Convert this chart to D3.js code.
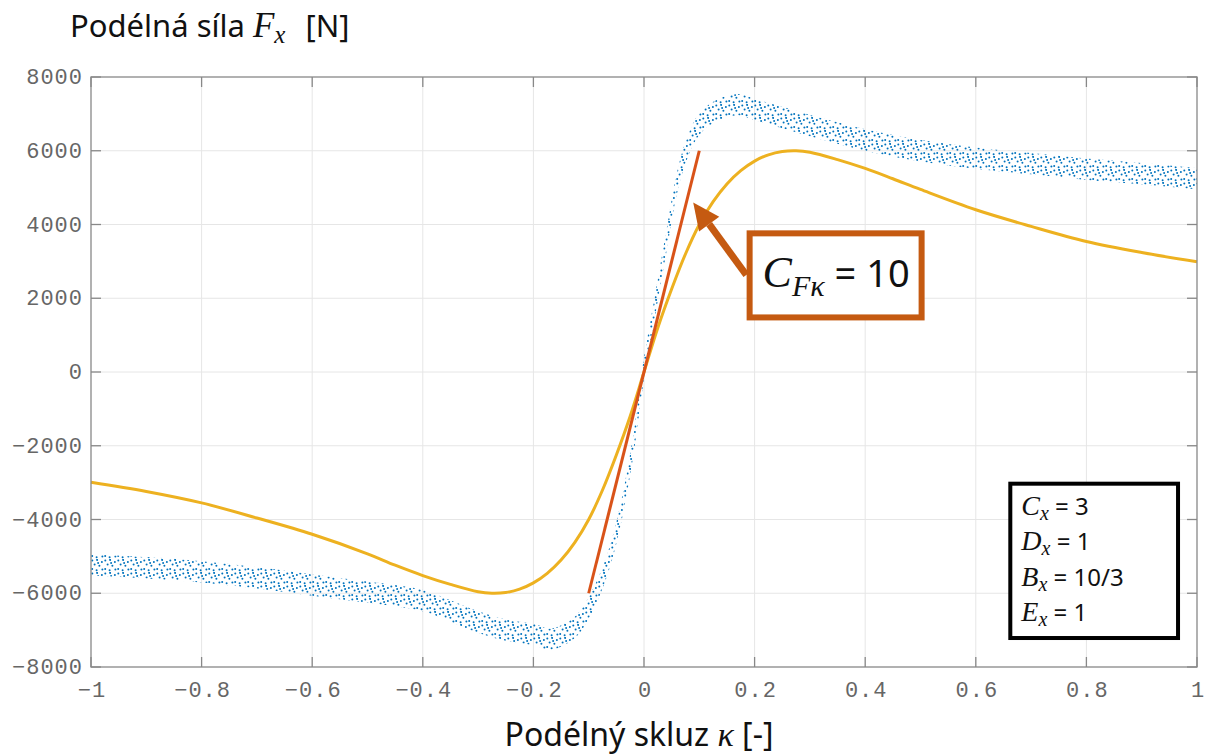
<!DOCTYPE html>
<html>
<head>
<meta charset="utf-8">
<script src="https://cdn.jsdelivr.net/npm/d3@7"></script>
<style>
  body { margin: 0; background: #fff; }
  .tick-label { font-family: "Liberation Mono", monospace; font-size: 22px; fill: #666; letter-spacing: 1px; }
  .sans { font-family: "Noto Sans", sans-serif; }
  .math { font-family: "Liberation Serif", serif; font-style: italic; }
</style>
</head>
<body>
<div id="chart"></div>
<script>
// axis ticks
const xTicks = [-1, -0.8, -0.6, -0.4, -0.2, 0, 0.2, 0.4, 0.6, 0.8, 1];
const yTicks = [-8000, -6000, -4000, -2000, 0, 2000, 4000, 6000, 8000];

const measX = [-1, -0.9, -0.8, -0.7, -0.6, -0.5, -0.4, -0.35, -0.3, -0.25, -0.2, -0.17, -0.14, -0.12, -0.1, -0.08, -0.06, -0.04, -0.02, 0,
               0.02, 0.04, 0.06, 0.08, 0.1, 0.13, 0.17, 0.2, 0.25, 0.3, 0.35, 0.4, 0.5, 0.6, 0.7, 0.8, 0.9, 1];
const measY = [-5230, -5310, -5420, -5580, -5780, -5970, -6200, -6480, -6780, -7000, -7120, -7250, -7080, -6850, -6400, -5770, -4920, -3700, -2050, 100,
               1800, 3500, 5150, 6150, 6720, 7080, 7250, 7120, 6900, 6680, 6480, 6290, 6000, 5800, 5650, 5500, 5380, 5240];
const measSpread = 290;

// magic formula curve (Cx = 3, Dx = 1, Bx = 10/3, Ex = 1)
const modelX = [-1, -0.9, -0.8, -0.7, -0.6, -0.5, -0.45, -0.4, -0.35, -0.3, -0.275, -0.25, -0.225, -0.2, -0.175, -0.15, -0.125, -0.1, -0.075, -0.05, -0.025, 0,
                0.025, 0.05, 0.075, 0.1, 0.125, 0.15, 0.175, 0.2, 0.225, 0.25, 0.275, 0.3, 0.35, 0.4, 0.45, 0.5, 0.6, 0.7, 0.8, 0.9, 1];
const modelY = [-2990, -3240, -3550, -3960, -4400, -4930, -5240, -5520, -5760, -5960, -6000, -5980, -5890, -5720, -5460, -5100, -4620, -4000, -3200, -2250, -1200, 0,
                1200, 2250, 3200, 4000, 4620, 5100, 5460, 5720, 5890, 5980, 6000, 5960, 5760, 5520, 5240, 4950, 4400, 3950, 3540, 3240, 2990];

// tangent at zero slip
const tangentX = [-0.1, 0.1];
const tangentY = [-6000, 6000];

const params = [["C", "3"], ["D", "1"], ["B", "10/3"], ["E", "1"]];

const width = 1205, height = 755;
const margin = { top: 77, right: 8, bottom: 88, left: 91 };

const svg = d3.select("#chart").append("svg")
    .attr("width", width)
    .attr("height", height);

const x = d3.scaleLinear().domain([-1, 1]).range([margin.left, width - margin.right]);
const y = d3.scaleLinear().domain([-8000, 8000]).range([height - margin.bottom, margin.top]);

const axisColor = "#888";
const fmt = v => (v < 0 ? "\u2212" : "") + Math.abs(v);

// dotted fill for the measured cloud
const defs = svg.append("defs");
const pat = defs.append("pattern")
    .attr("id", "dots")
    .attr("patternUnits", "userSpaceOnUse")
    .attr("width", 13).attr("height", 13);
[[1.3, 1.6], [6.1, 0.9], [10.9, 3.1], [3.6, 5.4], [8.4, 6.8], [1.2, 9.9], [5.6, 11.2], [11.4, 10.4], [7.1, 3.9]].forEach(p => {
    pat.append("circle").attr("cx", p[0]).attr("cy", p[1]).attr("r", 1.0).attr("fill", "#0072BD");
});

// grid
svg.append("g").selectAll("line").data(xTicks.slice(1, -1)).join("line")
    .attr("x1", d => x(d)).attr("x2", d => x(d))
    .attr("y1", y(8000)).attr("y2", y(-8000))
    .attr("stroke", "#e6e6e6").attr("stroke-width", 1);
svg.append("g").selectAll("line").data(yTicks.slice(1, -1)).join("line")
    .attr("y1", d => y(d)).attr("y2", d => y(d))
    .attr("x1", x(-1)).attr("x2", x(1))
    .attr("stroke", "#e6e6e6").attr("stroke-width", 1);

// measured cloud
const meas = measX.map((v, i) => ({ x: v, y: measY[i] }));
svg.append("path")
    .datum(meas)
    .attr("d", d3.area()
        .x(d => x(d.x))
        .y0(d => y(d.y - measSpread))
        .y1(d => y(d.y + measSpread))
        .curve(d3.curveCatmullRom))
    .attr("fill", "url(#dots)");

// model curve
const model = modelX.map((v, i) => ({ x: v, y: modelY[i] }));
svg.append("path")
    .datum(model)
    .attr("d", d3.line().x(d => x(d.x)).y(d => y(d.y)).curve(d3.curveCatmullRom))
    .attr("fill", "none")
    .attr("stroke", "#EDB120")
    .attr("stroke-width", 3);

// tangent
svg.append("line")
    .attr("x1", x(tangentX[0])).attr("y1", y(tangentY[0]))
    .attr("x2", x(tangentX[1])).attr("y2", y(tangentY[1]))
    .attr("stroke", "#D95319")
    .attr("stroke-width", 3);

// axes box
svg.append("rect")
    .attr("x", x(-1)).attr("y", y(8000))
    .attr("width", x(1) - x(-1)).attr("height", y(-8000) - y(8000))
    .attr("fill", "none").attr("stroke", axisColor).attr("stroke-width", 1.3);

// inward ticks on all four sides
const tickLen = 10;
const tk = svg.append("g").attr("stroke", axisColor).attr("stroke-width", 1.3);
xTicks.forEach(d => {
    tk.append("line").attr("x1", x(d)).attr("x2", x(d)).attr("y1", y(-8000)).attr("y2", y(-8000) - tickLen);
    tk.append("line").attr("x1", x(d)).attr("x2", x(d)).attr("y1", y(8000)).attr("y2", y(8000) + tickLen);
});
yTicks.forEach(d => {
    tk.append("line").attr("y1", y(d)).attr("y2", y(d)).attr("x1", x(-1)).attr("x2", x(-1) + tickLen);
    tk.append("line").attr("y1", y(d)).attr("y2", y(d)).attr("x1", x(1)).attr("x2", x(1) - tickLen);
});

// tick labels
svg.append("g").selectAll("text").data(xTicks).join("text")
    .attr("class", "tick-label")
    .attr("x", d => x(d) + 1)
    .attr("y", y(-8000) + 30)
    .attr("text-anchor", "middle")
    .text(fmt);
svg.append("g").selectAll("text").data(yTicks).join("text")
    .attr("class", "tick-label")
    .attr("x", x(-1) - 8)
    .attr("y", d => y(d) + 7)
    .attr("text-anchor", "end")
    .text(fmt);

// y title
const yt = svg.append("text").attr("x", 70).attr("y", 37).attr("font-size", 31).attr("fill", "#111");
yt.append("tspan").attr("class", "sans").text("Podélná síla ");
yt.append("tspan").attr("class", "math").attr("font-size", 35).text("F");
yt.append("tspan").attr("class", "math").attr("font-size", 25).attr("dy", 6).text("x");
yt.append("tspan").attr("class", "sans").attr("dy", -6).attr("dx", 20).text("[N]");

// x title
const xt = svg.append("text").attr("x", 639).attr("y", 746).attr("text-anchor", "middle").attr("font-size", 32).attr("fill", "#111");
xt.append("tspan").attr("class", "sans").text("Podélný skluz ");
xt.append("tspan").attr("class", "math").attr("font-size", 34).text("κ");
xt.append("tspan").attr("class", "sans").text(" [-]");

// annotation arrow
const orange = "#C55A11";
const tip = [x(0.089), y(4600)], tail = [x(0.185), y(2630)];
const dx = tip[0] - tail[0], dy = tip[1] - tail[1], len = Math.hypot(dx, dy);
const ux = dx / len, uy = dy / len, nx = -uy, ny = ux;
const headLen = 27, headW = 12.5;
const base = [tip[0] - ux * headLen, tip[1] - uy * headLen];
svg.append("line")
    .attr("x1", tail[0]).attr("y1", tail[1]).attr("x2", base[0]).attr("y2", base[1])
    .attr("stroke", orange).attr("stroke-width", 7);
svg.append("path")
    .attr("d", `M${tip[0]},${tip[1]}L${base[0] + nx * headW},${base[1] + ny * headW}L${base[0] - nx * headW},${base[1] - ny * headW}Z`)
    .attr("fill", orange);

// annotation box
const bx0 = x(0.191), bx1 = x(0.502), by0 = y(3760), by1 = y(1480);
svg.append("rect")
    .attr("x", bx0).attr("y", by0).attr("width", bx1 - bx0).attr("height", by1 - by0)
    .attr("fill", "#fff").attr("stroke", orange).attr("stroke-width", 6);
const at = svg.append("text").attr("x", bx0 + 13).attr("y", by0 + 54).attr("fill", "#111");
at.append("tspan").attr("class", "math").attr("font-size", 44).text("C");
at.append("tspan").attr("class", "math").attr("font-size", 30).attr("dy", 9).text("Fκ");
at.append("tspan").attr("class", "sans").attr("font-size", 38).attr("dy", -9).text(" = 10");

// parameter box
const px0 = x(0.6624), px1 = x(0.9657), py0 = y(-3029), py1 = y(-7214);
svg.append("rect")
    .attr("x", px0).attr("y", py0).attr("width", px1 - px0).attr("height", py1 - py0)
    .attr("fill", "#fff").attr("stroke", "#000").attr("stroke-width", 4);
params.forEach((p, i) => {
    const t = svg.append("text").attr("x", px0 + 11).attr("y", py0 + 31 + i * 35.5).attr("fill", "#111");
    t.append("tspan").attr("class", "math").attr("font-size", 28).text(p[0]);
    t.append("tspan").attr("class", "math").attr("font-size", 20).attr("dy", 5).text("x");
    t.append("tspan").attr("class", "sans").attr("font-size", 24).attr("dy", -5).text(" = " + p[1]);
});
</script>
</body>
</html>
